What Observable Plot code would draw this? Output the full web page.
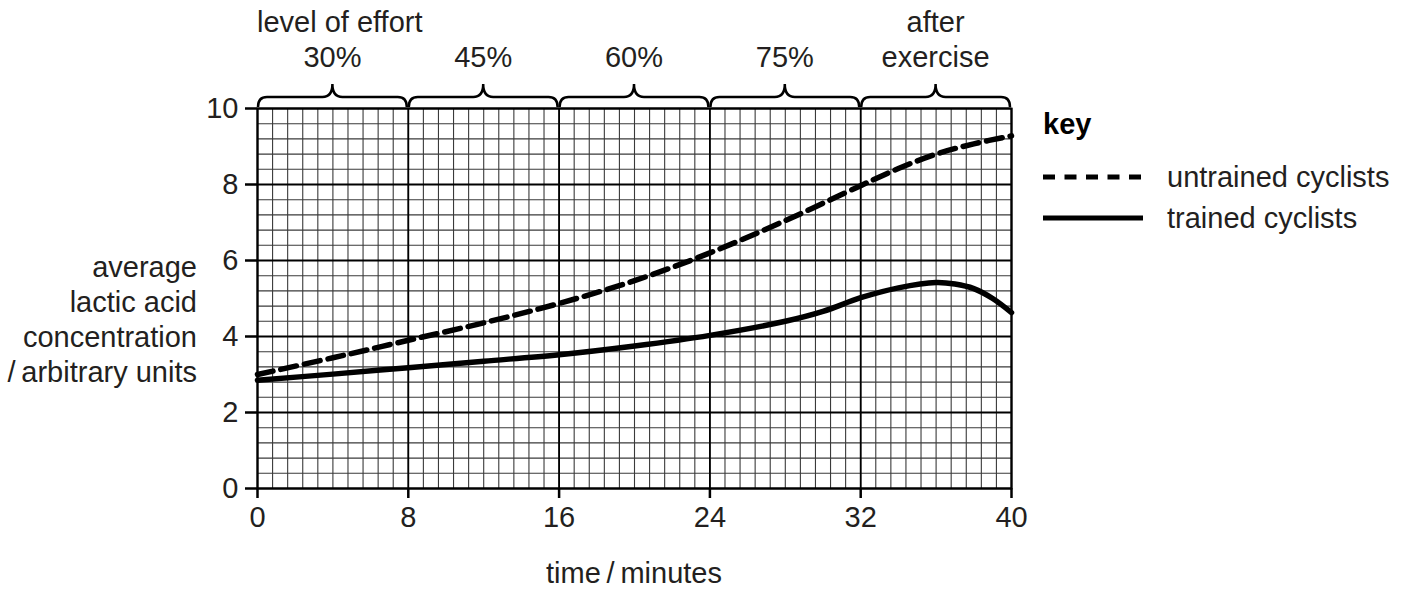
<!DOCTYPE html>
<html><head><meta charset="utf-8">
<script src="https://cdn.jsdelivr.net/npm/d3@7"></script>
<script src="https://cdn.jsdelivr.net/npm/@observablehq/plot@0.6"></script>
<style>
body{margin:0;background:#fff}
svg{font-family:"Liberation Sans",Arial,sans-serif}
</style>
</head><body><div id="chart"></div>
<script>
// ---- data ----
const untrainedTime  = [0, 4, 8, 12, 16, 20, 24, 28, 32, 34, 36, 38, 40];
const untrainedValue = [3.0, 3.44, 3.9, 4.36, 4.87, 5.47, 6.2, 7.05, 7.97, 8.42, 8.8, 9.07, 9.28];
const trainedTime    = [0, 4, 8, 12, 16, 20, 24, 28, 30, 32, 34, 36, 37, 38, 39, 40];
const trainedValue   = [2.85, 3.01, 3.18, 3.35, 3.52, 3.75, 4.03, 4.4, 4.66, 5.02, 5.28, 5.42, 5.38, 5.26, 5.0, 4.63];
const phaseStart  = [0, 8, 16, 24, 32];
const phaseEnd    = [8, 16, 24, 32, 40];
const phaseLabels = [["30%"], ["45%"], ["60%"], ["75%"], ["after", "exercise"]];
const xTicks = [0, 8, 16, 24, 32, 40];
const yTicks = [0, 2, 4, 6, 8, 10];
const xMinor = d3.range(0, 40.001, 0.8);
const yMinor = d3.range(0, 10.001, 0.4);
const seriesNames = ["untrained cyclists", "trained cyclists"];
const yLabelLines = ["average", "lactic acid", "concentration", "/\u2009arbitrary units"];
const xLabel = "time\u2009/\u2009minutes";
const effortTitle = "level of effort";
const keyTitle = "key";

const untrained = untrainedTime.map((t, i) => ({t, v: untrainedValue[i]}));
const trained = trainedTime.map((t, i) => ({t, v: trainedValue[i]}));

const FS = 29;
const TXT = "#231f20";

function annotations(index, scales, values, dim) {
  const g = d3.create("svg:g").attr("font-size", FS).attr("fill", TXT).attr("text-anchor", "start");
  const top = dim.marginTop;
  // braces + labels
  phaseStart.forEach((s, i) => {
    const x0 = scales.x(s), x1 = scales.x(phaseEnd[i]), xm = (x0 + x1) / 2;
    const r = 10, yh = top - 11, ye = top - 1, yc = top - 24;
    const d = `M${x0 + 1},${ye} Q${x0 + 1},${yh} ${x0 + r},${yh} L${xm - r},${yh} Q${xm},${yh} ${xm},${yc} Q${xm},${yh} ${xm + r},${yh} L${x1 - r},${yh} Q${x1 - 1},${yh} ${x1 - 1},${ye}`;
    g.append("path").attr("d", d).attr("fill", "none").attr("stroke", "black").attr("stroke-width", 2.5);
    const lines = phaseLabels[i];
    lines.forEach((ln, j) => {
      g.append("text").attr("x", xm).attr("y", top - 41 - (lines.length - 1 - j) * 35)
        .attr("text-anchor", "middle").text(ln);
    });
  });
  g.append("text").attr("x", scales.x(0)).attr("y", top - 76).attr("text-anchor", "start").text(effortTitle);
  // y label
  yLabelLines.forEach((ln, j) => {
    g.append("text").attr("x", dim.marginLeft - 60).attr("y", 277 + j * 35)
      .attr("text-anchor", "end").text(ln);
  });
  // x label
  g.append("text").attr("x", (scales.x(0) + scales.x(40)) / 2).attr("y", 583)
    .attr("text-anchor", "middle").text(xLabel);
  // legend
  const lx = dim.width - dim.marginRight + 32;
  g.append("text").attr("x", lx).attr("y", 134).attr("font-weight", "bold").attr("fill", "black")
    .attr("text-anchor", "start").text(keyTitle);
  const ly = [177, 218];
  seriesNames.forEach((name, i) => {
    const ln = g.append("line").attr("x1", lx).attr("x2", lx + 100).attr("y1", ly[i]).attr("y2", ly[i])
      .attr("stroke", "black").attr("stroke-width", 5);
    if (i === 0) ln.attr("stroke-dasharray", "12,9.5");
    g.append("text").attr("x", lx + 124).attr("y", ly[i] + 10).attr("text-anchor", "start").text(name);
  });
  return g.node();
}

const chart = Plot.plot({
  width: 1410,
  height: 589,
  marginLeft: 257,
  marginRight: 399,
  marginTop: 108,
  marginBottom: 101,
  style: {color: "black", fontFamily: "Liberation Sans, Arial, sans-serif", background: "white"},
  x: {domain: [0, 40]},
  y: {domain: [0, 10]},
  marks: [
    Plot.ruleX(xMinor, {stroke: "#3a3a3a", strokeWidth: 1.1}),
    Plot.ruleY(yMinor, {stroke: "#3a3a3a", strokeWidth: 1.1}),
    Plot.ruleX(xTicks, {stroke: "black", strokeWidth: 1.8}),
    Plot.ruleY(yTicks, {stroke: "black", strokeWidth: 1.8}),
    Plot.frame({stroke: "black", strokeWidth: 2}),
    Plot.axisX({ticks: xTicks, tickSize: 10, tickPadding: 8, fontSize: FS, label: null, strokeWidth: 2.5, fill: TXT}),
    Plot.axisY({ticks: yTicks, tickSize: 12, tickPadding: 7, fontSize: FS, label: null, strokeWidth: 2.5, fill: TXT}),
    Plot.line(untrained, {x: "t", y: "v", curve: "catmull-rom", stroke: "black", strokeWidth: 5.5, strokeDasharray: "16,8"}),
    Plot.line(trained, {x: "t", y: "v", curve: "catmull-rom", stroke: "black", strokeWidth: 5.5}),
    annotations
  ]
});
document.getElementById("chart").appendChild(chart);
</script>
</body></html>
